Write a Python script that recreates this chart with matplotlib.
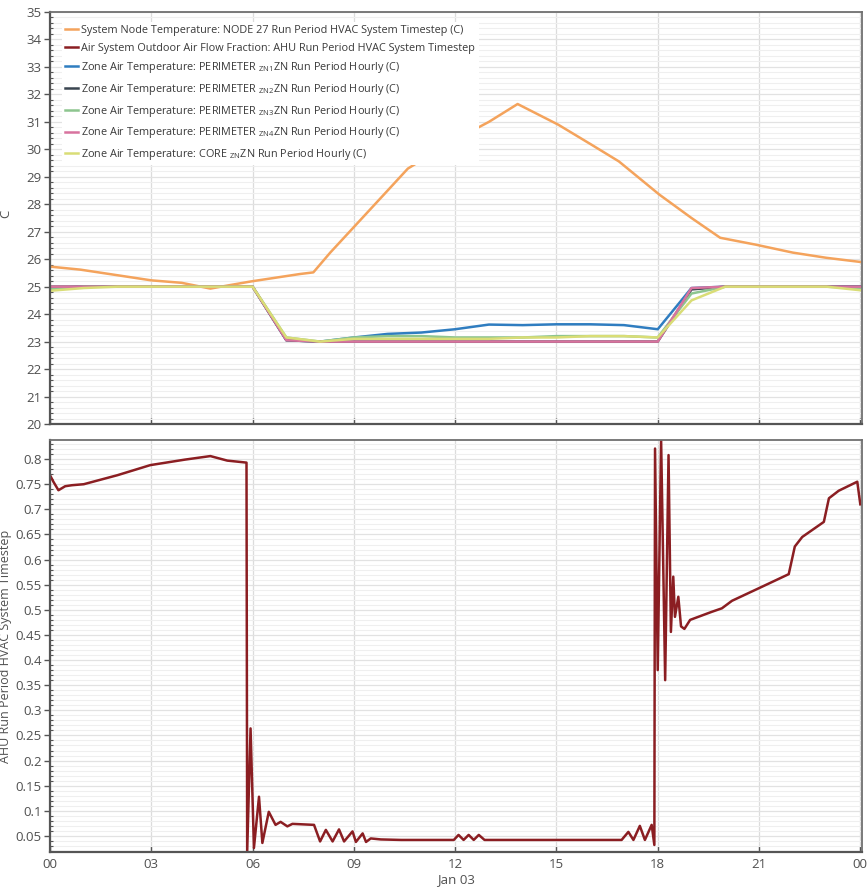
import matplotlib
matplotlib.use("Agg")
import matplotlib.pyplot as plt
from matplotlib.ticker import MultipleLocator, FixedLocator

plt.rcParams['font.family'] = ['Open Sans', 'DejaVu Sans']
plt.rcParams['mathtext.fontset'] = 'custom'
plt.rcParams['mathtext.rm'] = 'Open Sans'

# ---------------- data ----------------
node_hours = [0.0, 0.9, 3.0, 3.9, 4.75, 5.25, 5.95, 7.4, 7.8, 8.3, 9.0, 10.0, 10.6,
              11.0, 12.0, 13.0, 13.85, 15.05, 16.05, 16.85, 18.05, 19.0, 19.85,
              20.9, 22.0, 23.0, 24.0]
node_temp = [25.73, 25.62, 25.23, 25.14, 24.93, 25.04, 25.19, 25.46, 25.52, 26.24,
             27.17, 28.5, 29.3, 29.6, 30.35, 31.0, 31.65, 30.9, 30.16, 29.56, 28.35,
             27.5, 26.78, 26.53, 26.24, 26.05, 25.9]

zone_hours = list(range(25))
zn1 = [24.95, 25.0, 25.0, 25.0, 25.0, 25.0, 25.0, 23.05, 23.0, 23.15, 23.28, 23.33,
       23.45, 23.62, 23.6, 23.63, 23.63, 23.6, 23.45, 24.95, 25.0, 25.0, 25.0, 25.0, 25.0]
zn2 = [25.0, 25.0, 25.0, 25.0, 25.0, 25.0, 25.0, 23.05, 23.0, 23.0, 23.0, 23.0,
       23.0, 23.0, 23.0, 23.0, 23.0, 23.0, 23.0, 24.9, 25.0, 25.0, 25.0, 25.0, 25.0]
zn3 = [24.9, 25.0, 25.0, 25.0, 25.0, 25.0, 25.0, 23.15, 23.0, 23.15, 23.2, 23.2,
       23.15, 23.15, 23.15, 23.2, 23.2, 23.2, 23.15, 24.75, 25.0, 25.0, 25.0, 25.0, 24.95]
zn4 = [25.0, 25.0, 25.0, 25.0, 25.0, 25.0, 25.0, 23.05, 23.0, 23.0, 23.0, 23.0,
       23.0, 23.0, 23.0, 23.0, 23.0, 23.0, 23.0, 24.95, 25.0, 25.0, 25.0, 25.0, 25.0]
core = [24.85, 24.95, 25.0, 25.0, 25.0, 25.0, 25.0, 23.15, 23.0, 23.1, 23.1, 23.1,
        23.1, 23.1, 23.15, 23.15, 23.2, 23.2, 23.15, 24.5, 25.0, 25.0, 25.0, 25.0, 24.87]

oa_hours = [0.0, 0.1, 0.25, 0.45, 0.65, 1.0, 2.0, 2.97, 4.0, 4.75, 5.25, 5.82, 5.84,
            5.94, 6.04, 6.19, 6.29, 6.48, 6.68, 6.83, 7.03, 7.18, 7.82, 8.0, 8.17,
            8.37, 8.56, 8.71, 8.96, 9.06, 9.26, 9.36, 9.5, 9.8, 10.4, 11.96, 12.1,
            12.25, 12.4, 12.55, 12.7, 12.87, 16.93, 17.13, 17.28, 17.47, 17.62, 17.82,
            17.9, 17.92, 18.0, 18.1, 18.22, 18.32, 18.39, 18.46, 18.51, 18.61, 18.69,
            18.79, 18.96, 19.6, 19.9, 20.2, 21.09, 21.88, 22.06, 22.28, 22.92, 23.07,
            23.36, 23.91, 24.0]
oa_frac = [0.768, 0.755, 0.738, 0.746, 0.748, 0.75, 0.768, 0.788, 0.799, 0.806, 0.797,
           0.793, 0.018, 0.264, 0.026, 0.128, 0.036, 0.098, 0.072, 0.078, 0.069, 0.074,
           0.072, 0.039, 0.062, 0.039, 0.063, 0.039, 0.059, 0.038, 0.055, 0.038, 0.045,
           0.043, 0.042, 0.042, 0.052, 0.042, 0.052, 0.042, 0.052, 0.042, 0.042, 0.058,
           0.042, 0.07, 0.042, 0.072, 0.032, 0.821, 0.38, 0.838, 0.36, 0.808, 0.456,
           0.566, 0.486, 0.526, 0.467, 0.462, 0.48, 0.496, 0.503, 0.518, 0.546, 0.571,
           0.626, 0.645, 0.675, 0.722, 0.737, 0.755, 0.71]

x_ticks = [0, 3, 6, 9, 12, 15, 18, 21, 24]
x_labels = ['00', '03', '06', '09', '12', '15', '18', '21', '00']

labels = [
    'System Node Temperature: NODE 27 Run Period HVAC System Timestep (C)',
    'Air System Outdoor Air Flow Fraction: AHU Run Period HVAC System Timestep',
    r'Zone Air Temperature: PERIMETER $_\mathregular{ZN1}$ZN Run Period Hourly (C)',
    r'Zone Air Temperature: PERIMETER $_\mathregular{ZN2}$ZN Run Period Hourly (C)',
    r'Zone Air Temperature: PERIMETER $_\mathregular{ZN3}$ZN Run Period Hourly (C)',
    r'Zone Air Temperature: PERIMETER $_\mathregular{ZN4}$ZN Run Period Hourly (C)',
    r'Zone Air Temperature: CORE $_\mathregular{ZN}$ZN Run Period Hourly (C)',
]
colors = ['#F4A35C', '#8B1E22', '#2F7DC0', '#3A4550', '#8DC58F', '#D8739E', '#D9DD76']

# ---------------- figure ----------------
fig = plt.figure(figsize=(8.68, 8.89), dpi=100)
ax1 = fig.add_axes([50/868, 1-424/889, 812/868, 412/889])
ax2 = fig.add_axes([50/868, 1-852/889, 812/868, 412/889])

lw = 1.8
def style(ax):
    for s in ax.spines.values():
        s.set_color('#707070')
        s.set_linewidth(1.3)
    ax.spines['left'].set_color('#555555')
    ax.spines['bottom'].set_color('#555555')
    ax.spines['left'].set_linewidth(1.6)
    ax.spines['bottom'].set_linewidth(1.6)
    ax.set_xlim(0, 24.05)
    ax.xaxis.set_major_locator(FixedLocator(x_ticks))
    ax.grid(which='major', axis='x', color='#dcdcdc', lw=0.9)
    ax.grid(which='major', axis='y', color='#e2e2e2', lw=0.9)
    ax.grid(which='minor', axis='y', color='#efefef', lw=0.8)
    ax.set_axisbelow(True)
    ax.tick_params(axis='y', which='major', direction='out', length=4, width=1,
                   color='#555555', labelsize=9.5, labelcolor='#505050', pad=2)
    ax.tick_params(axis='y', which='minor', direction='in', length=2.5, width=0.8,
                   color='#555555')
    ax.tick_params(axis='x', which='major', direction='in', length=4, width=1,
                   color='#555555', labelsize=9.5, labelcolor='#505050', pad=4)

# top
l_node, = ax1.plot(node_hours, node_temp, color=colors[0], lw=lw)
l_oa_dummy, = ax1.plot([], [], color=colors[1], lw=lw)
l1, = ax1.plot(zone_hours, zn1, color=colors[2], lw=lw)
l2, = ax1.plot(zone_hours, zn2, color=colors[3], lw=lw)
l3, = ax1.plot(zone_hours, zn3, color=colors[4], lw=lw)
l4, = ax1.plot(zone_hours, zn4, color=colors[5], lw=lw)
l5, = ax1.plot(zone_hours, core, color=colors[6], lw=lw)
ax1.set_ylim(20, 35)
ax1.yaxis.set_major_locator(MultipleLocator(1))
ax1.yaxis.set_minor_locator(MultipleLocator(0.2))
style(ax1)
ax1.tick_params(axis='x', labelbottom=False)
ax1.set_ylabel('C', fontsize=9.5, color='#505050')
ax1.yaxis.set_label_coords(-0.047, 0.51)

leg = ax1.legend([l_node, l_oa_dummy, l1, l2, l3, l4, l5], labels, loc='upper left',
                 bbox_to_anchor=(0.008, 0.99), fontsize=7.8, frameon=True,
                 framealpha=1, edgecolor='none', facecolor='white', fancybox=False,
                 handlelength=1.2, handletextpad=0.3, labelspacing=0.62,
                 borderpad=0.3, labelcolor='#3a3a3a')

# bottom
ax2.plot(oa_hours, oa_frac, color=colors[1], lw=lw)
ax2.set_ylim(0.018, 0.838)
ax2.yaxis.set_major_locator(MultipleLocator(0.05))
ax2.yaxis.set_minor_locator(MultipleLocator(0.01))
style(ax2)
ax2.set_yticks([0.05, 0.1, 0.15, 0.2, 0.25, 0.3, 0.35, 0.4, 0.45, 0.5, 0.55, 0.6,
                0.65, 0.7, 0.75, 0.8])
ax2.set_yticklabels(['0.05', '0.1', '0.15', '0.2', '0.25', '0.3', '0.35', '0.4', '0.45',
                     '0.5', '0.55', '0.6', '0.65', '0.7', '0.75', '0.8'])
ax2.set_xticklabels(x_labels)
ax2.set_ylabel('AHU Run Period HVAC System Timestep', fontsize=9, color='#505050')
ax2.yaxis.set_label_coords(-0.047, 0.5)
ax2.set_xlabel('Jan 03', fontsize=9.5, color='#505050', labelpad=2)

fig.savefig('out.png', dpi=100)
